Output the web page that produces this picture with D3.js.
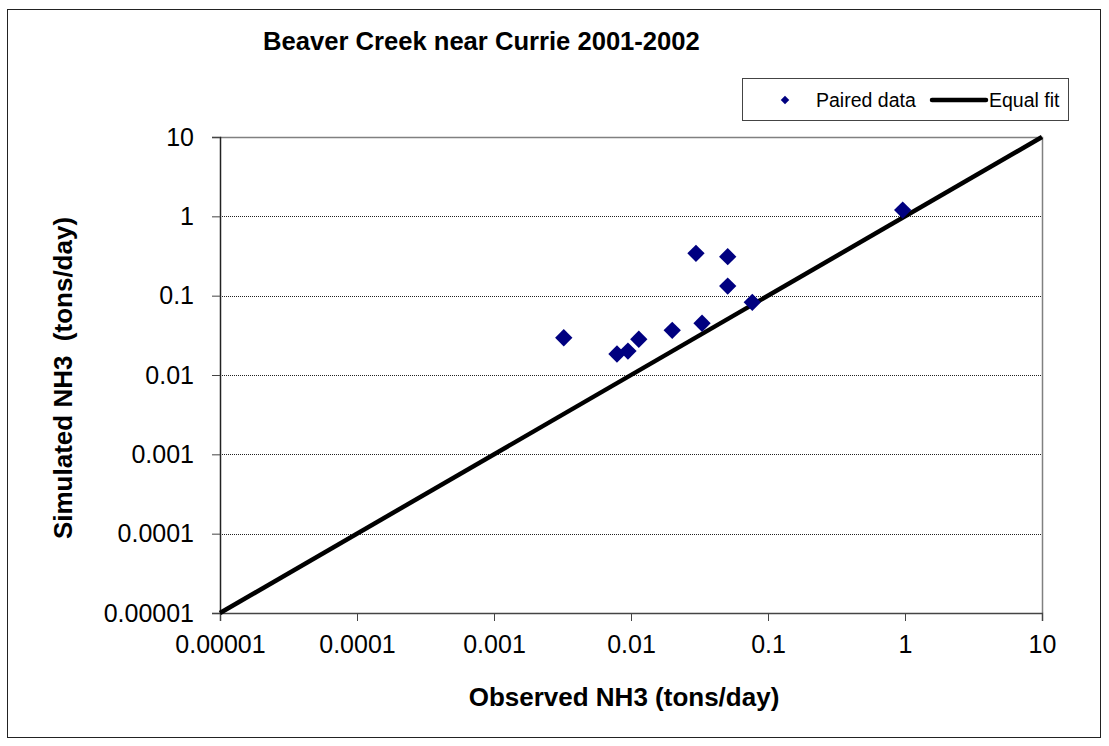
<!DOCTYPE html>
<html>
<head>
<meta charset="utf-8">
<script src="https://cdn.jsdelivr.net/npm/d3@7"></script>
<style>
  body { margin: 0; background: #fff; }
  text { font-family: "Liberation Sans", Arial, sans-serif; fill: #000; }
</style>
</head>
<body>
<div id="chart"></div>
<script>
// paired data (tons/day)
var observed  = [0.00323, 0.0079, 0.0095, 0.0114, 0.020, 0.033, 0.0298, 0.0508, 0.0508, 0.0768, 0.962];
var simulated = [0.0295, 0.0184, 0.020, 0.0282, 0.0366, 0.0449, 0.342, 0.31, 0.132, 0.0824, 1.2];

// equal fit line end points
var fitX = [0.00001, 10];
var fitY = [0.00001, 10];

// axis ticks
var tickValues = [0.00001, 0.0001, 0.001, 0.01, 0.1, 1, 10];
var tickLabels = ["0.00001", "0.0001", "0.001", "0.01", "0.1", "1", "10"];

var seriesNames = ["Paired data", "Equal fit"];
var chartTitle = "Beaver Creek near Currie 2001-2002";
var xTitle = "Observed NH3 (tons/day)";
var yTitle = "Simulated NH3  (tons/day)";

var width = 1109, height = 746;
var plot = {left: 220, right: 1042, top: 137, bottom: 613};

var svg = d3.select("#chart").append("svg")
    .attr("width", width)
    .attr("height", height);

// outer frame
svg.append("rect")
    .attr("x", 7.5).attr("y", 9.5)
    .attr("width", 1093).attr("height", 728)
    .attr("fill", "#fff")
    .attr("stroke", "#222");

var x = d3.scaleLog().domain([0.00001, 10]).range([plot.left, plot.right]);
var y = d3.scaleLog().domain([0.00001, 10]).range([plot.bottom, plot.top]);

function fmt(d) { return tickLabels[tickValues.indexOf(d)]; }

// gridlines (dotted)
svg.append("g").selectAll("line")
    .data(tickValues.slice(1, -1))
  .enter().append("line")
    .attr("x1", plot.left).attr("x2", plot.right)
    .attr("y1", function(d) { return Math.round(y(d)) + 0.5; })
    .attr("y2", function(d) { return Math.round(y(d)) + 0.5; })
    .attr("stroke", "#222")
    .attr("stroke-dasharray", "1,1");

// top and right border of plot area
svg.append("path")
    .attr("d", "M" + plot.left + "," + (plot.top + 0.5) + "H" + (plot.right + 0.5) + "V" + plot.bottom)
    .attr("fill", "none")
    .attr("stroke", "#808080")
    .attr("stroke-width", 1.5);

// x-axis
var xAxis = svg.append("g")
    .attr("transform", "translate(0," + plot.bottom + ")")
    .call(d3.axisBottom(x).tickValues(tickValues).tickFormat(fmt).tickSize(8).tickPadding(14));
xAxis.select(".domain").attr("stroke", "#444").attr("stroke-width", 1.5);
xAxis.selectAll(".tick line").attr("stroke", "#444");
xAxis.selectAll("text")
    .style("font-family", "Liberation Sans, Arial, sans-serif")
    .style("font-size", "25px");

// y-axis
var yAxis = svg.append("g")
    .attr("transform", "translate(" + plot.left + ",0)")
    .call(d3.axisLeft(y).tickValues(tickValues).tickFormat(fmt).tickSize(8).tickPadding(18));
yAxis.select(".domain").attr("stroke", "#222").attr("stroke-width", 1.5);
yAxis.selectAll(".tick line").attr("stroke", "#444");
yAxis.selectAll("text")
    .style("font-family", "Liberation Sans, Arial, sans-serif")
    .style("font-size", "25px");

// equal fit line
var line = d3.line()
    .x(function(d) { return x(d[0]); })
    .y(function(d) { return y(d[1]); });

svg.append("path")
    .datum(d3.zip(fitX, fitY))
    .attr("d", line)
    .attr("fill", "none")
    .attr("stroke", "#000")
    .attr("stroke-width", 4.5);

// paired data diamonds
var diamond = d3.symbol().type(d3.symbolSquare).size(150);

svg.append("g").selectAll("path")
    .data(d3.zip(observed, simulated))
  .enter().append("path")
    .attr("d", diamond)
    .attr("transform", function(d) { return "translate(" + x(d[0]) + "," + y(d[1]) + ") rotate(45)"; })
    .attr("fill", "#000080");

// title
svg.append("text")
    .attr("x", 263).attr("y", 50)
    .style("font-size", "25.6px")
    .style("font-weight", "bold")
    .text(chartTitle);

// axis titles
svg.append("text")
    .attr("x", 624).attr("y", 706)
    .attr("text-anchor", "middle")
    .style("font-size", "26px")
    .style("font-weight", "bold")
    .text(xTitle);

svg.append("text")
    .attr("transform", "translate(72,378) rotate(-90)")
    .attr("text-anchor", "middle")
    .style("font-size", "26px")
    .style("font-weight", "bold")
    .style("white-space", "pre")
    .text(yTitle);

// legend
var legend = svg.append("g");
legend.append("rect")
    .attr("x", 742.5).attr("y", 78.5)
    .attr("width", 326).attr("height", 42)
    .attr("fill", "#fff")
    .attr("stroke", "#444");

legend.append("path")
    .attr("d", d3.symbol().type(d3.symbolSquare).size(36))
    .attr("transform", "translate(785,100) rotate(45)")
    .attr("fill", "#000080");

legend.append("text")
    .attr("x", 816).attr("y", 107)
    .style("font-size", "19.5px")
    .text(seriesNames[0]);

legend.append("line")
    .attr("x1", 932).attr("x2", 986)
    .attr("y1", 100).attr("y2", 100)
    .attr("stroke", "#000")
    .attr("stroke-width", 4.5)
    .attr("stroke-linecap", "round");

legend.append("text")
    .attr("x", 989).attr("y", 107)
    .style("font-size", "19.5px")
    .text(seriesNames[1]);
</script>
</body>
</html>
